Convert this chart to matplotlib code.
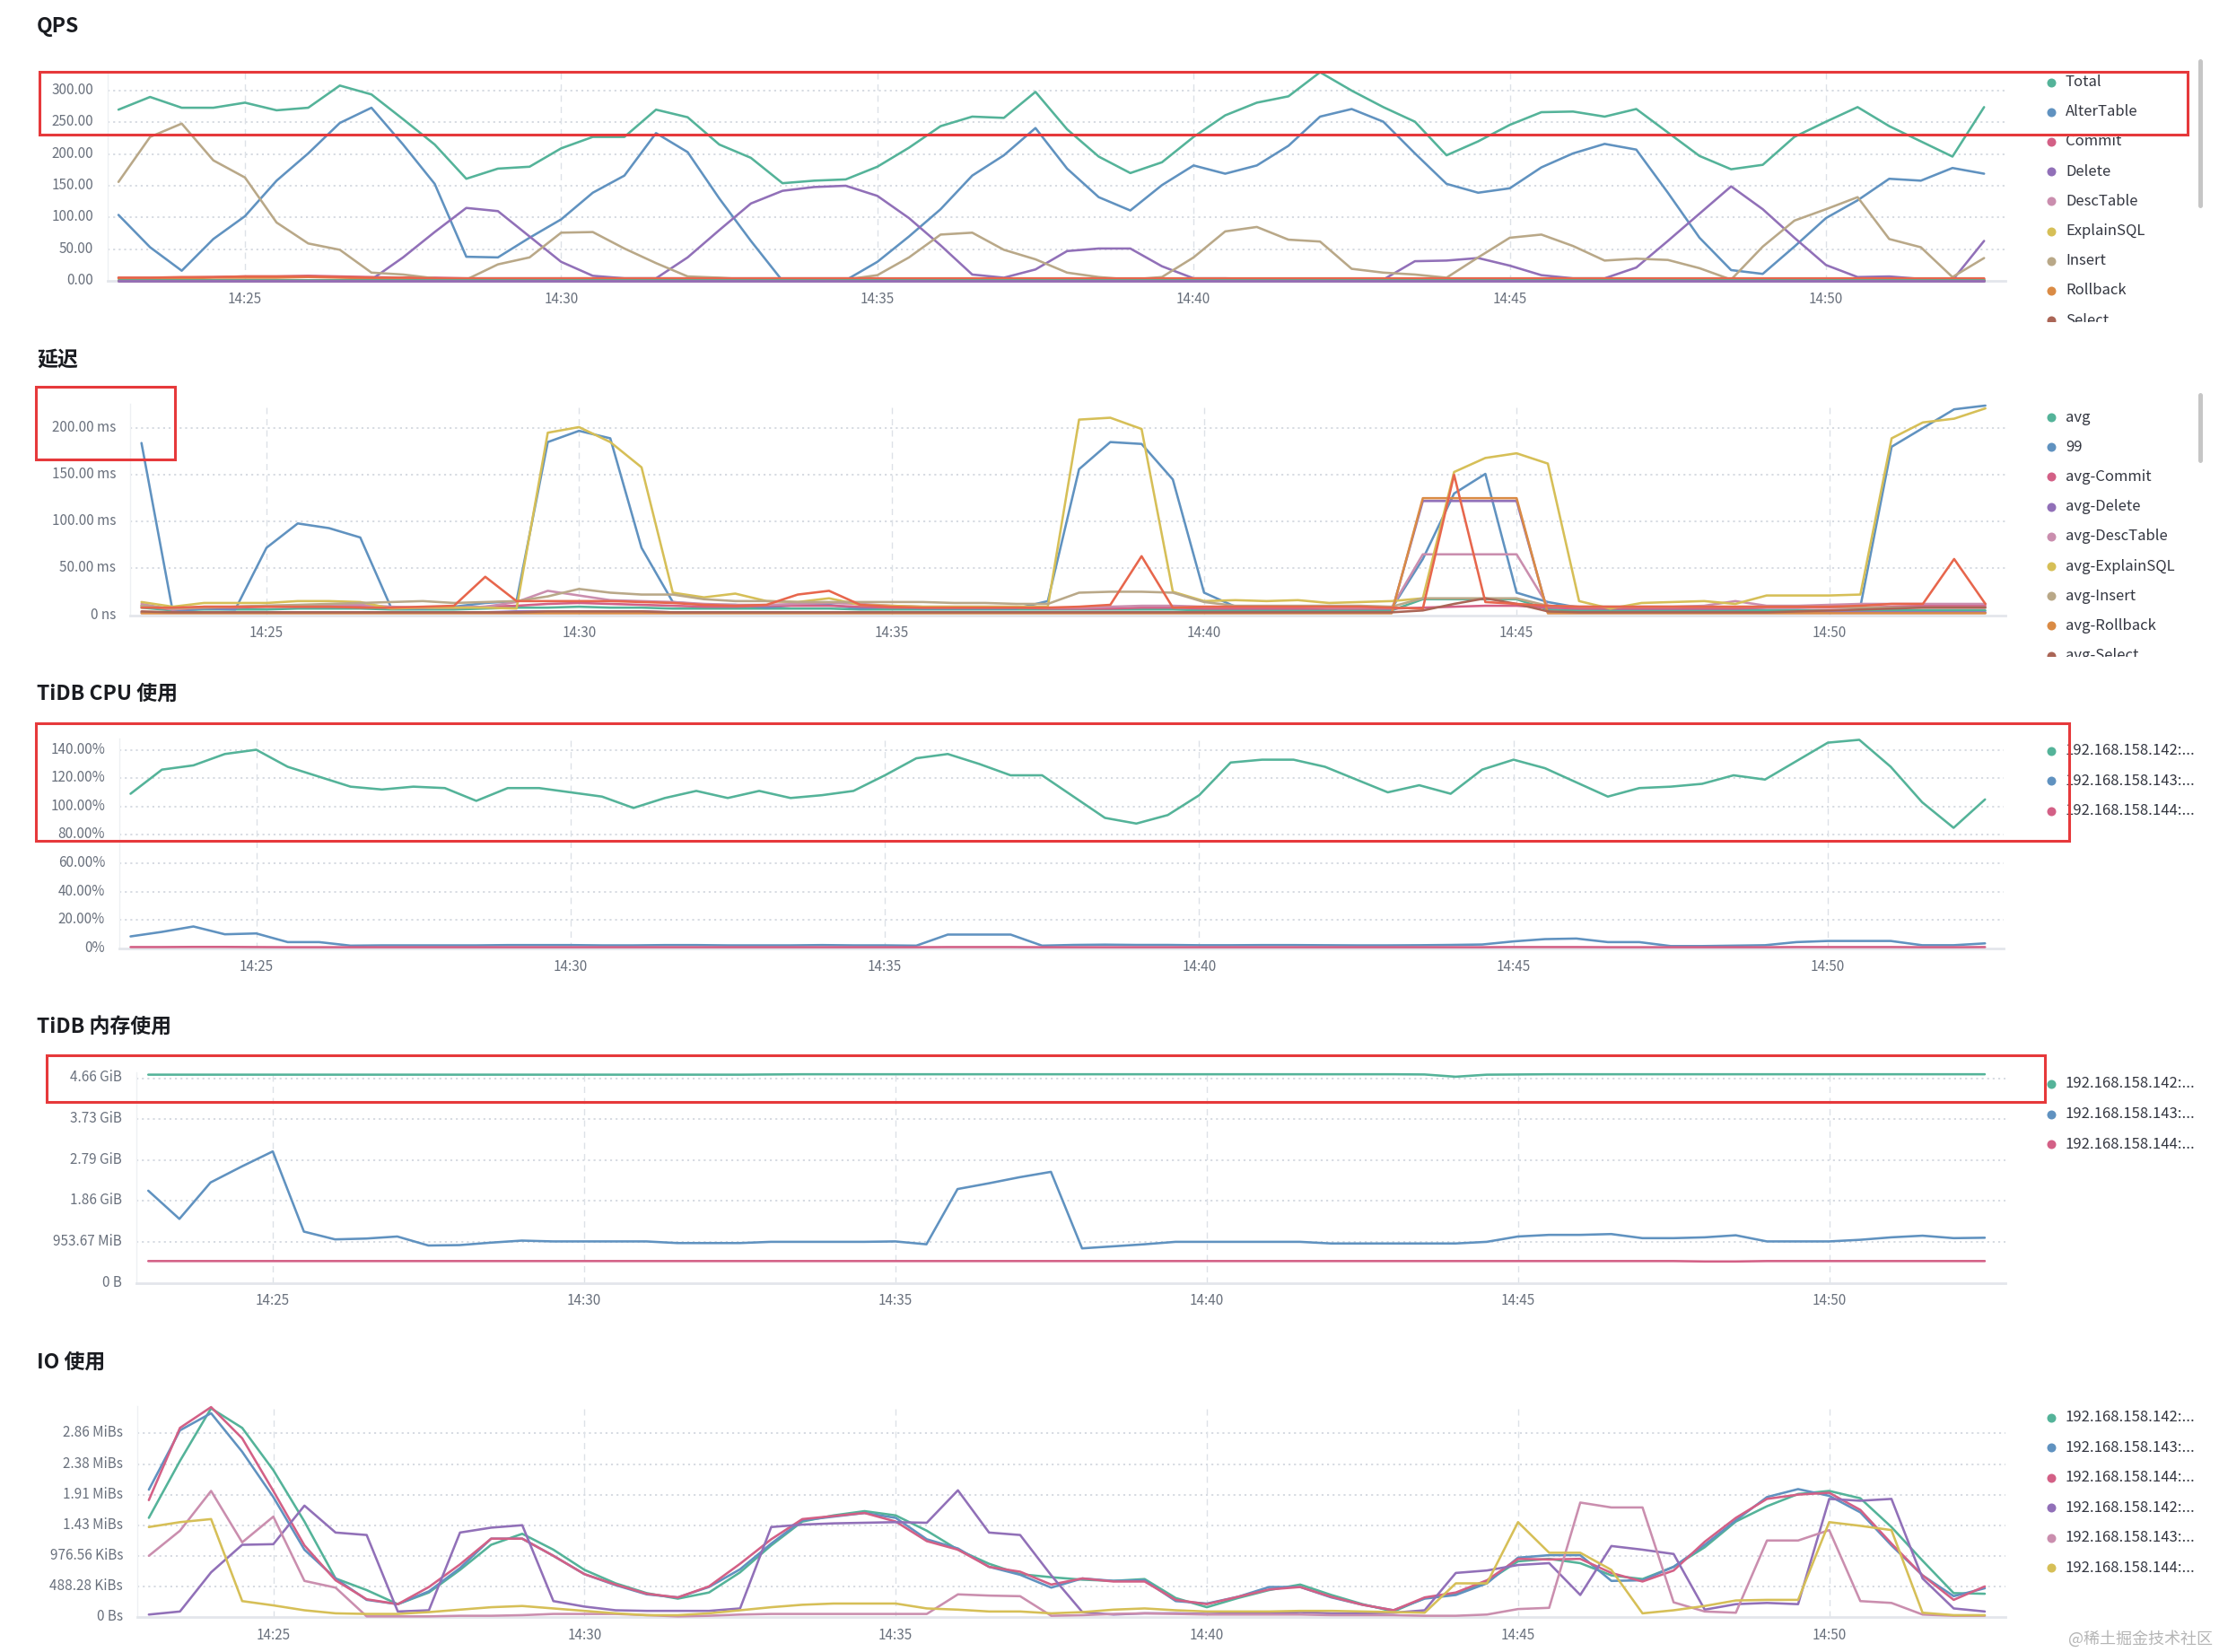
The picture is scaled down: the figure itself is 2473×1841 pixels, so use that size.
import numpy as np
import matplotlib
matplotlib.use("Agg")
import matplotlib.pyplot as plt
from matplotlib.patches import Rectangle
import matplotlib.transforms as mtransforms

plt.rcParams['font.family'] = ['Noto Sans CJK SC', 'DejaVu Sans']

W, H, DPI = 2473, 1841, 100

# ---------------- time axis ----------------
N_POINTS = 60
START_MIN = 23.0      # 14:23
STEP_MIN = 0.5        # 30 s
X_TICKS = [25, 30, 35, 40, 45, 50]
X_LABELS = ["14:25", "14:30", "14:35", "14:40", "14:45", "14:50"]

# ---------------- QPS ----------------
qps_names = ["Total", "AlterTable", "Commit", "Delete", "DescTable", "ExplainSQL",
             "Insert", "Rollback", "Select", "Update", "Set", "Show", "Use", "Other"]
qps_total = [270, 290, 273, 273, 281, 269, 273, 308, 294, 255, 215, 161, 177, 180, 209, 227, 227, 270, 258, 215,
             194, 154, 158, 160, 180, 210, 244, 259, 257, 298, 239, 196, 170, 187, 227, 261, 281, 291, 329, 300,
             274, 251, 198, 220, 246, 266, 267, 259, 271, 234, 197, 176, 183, 227, 251, 274, 244, 220, 196, 274]
qps_alter = [104, 53, 16, 66, 102, 158, 201, 249, 273, 215, 153, 38, 37, 68, 97, 139, 166, 233, 203, 130,
             63, 0, 0, 1, 30, 70, 113, 166, 198, 241, 177, 132, 111, 151, 182, 169, 182, 213, 259, 271,
             251, 201, 153, 139, 146, 179, 201, 216, 207, 139, 68, 17, 11, 54, 99, 127, 161, 158, 178, 169]
qps_commit = [5, 5, 5, 6, 7, 7, 8, 7, 6, 5, 5, 4, 4, 4, 4, 4, 4, 4, 4, 4,
              4, 4, 4, 4, 4, 3, 3, 3, 3, 3, 3, 3, 3, 3, 3, 3, 3, 3, 3, 3,
              3, 3, 3, 3, 3, 3, 3, 3, 3, 3, 3, 3, 3, 3, 3, 3, 3, 3, 3, 3]
qps_delete = [0, 0, 0, 0, 0, 0, 0, 0, 2, 37, 77, 115, 110, 70, 30, 8, 4, 4, 37, 80,
              122, 142, 148, 150, 134, 99, 56, 10, 5, 18, 47, 51, 51, 23, 4, 4, 3, 3, 3, 2,
              2, 31, 32, 36, 24, 9, 4, 4, 21, 63, 106, 149, 113, 68, 25, 6, 7, 3, 1, 63]
qps_desc = [1, 1, 1, 1, 1, 1, 1, 1, 1, 1, 1, 1, 1, 1, 1, 1, 1, 1, 1, 1,
            1, 1, 1, 1, 1, 1, 1, 1, 1, 1, 1, 1, 1, 1, 1, 1, 1, 1, 1, 1,
            1, 1, 1, 1, 1, 1, 1, 1, 1, 1, 1, 1, 1, 1, 1, 1, 1, 1, 1, 1]
qps_explain = [1, 1, 1, 1, 1, 1, 1, 1, 1, 1, 1, 1, 1, 1, 1, 1, 1, 1, 1, 1,
               1, 1, 1, 1, 1, 1, 1, 1, 1, 1, 1, 1, 1, 1, 1, 1, 1, 1, 1, 1,
               1, 1, 1, 1, 1, 1, 1, 1, 1, 1, 1, 1, 1, 1, 1, 1, 1, 1, 1, 1]
qps_insert = [156, 227, 248, 190, 163, 92, 59, 49, 13, 10, 4, 2, 26, 37, 76, 77, 51, 28, 7, 5,
              2, 1, 1, 2, 9, 37, 73, 76, 49, 34, 13, 6, 2, 6, 37, 78, 85, 65, 62, 19,
              13, 10, 5, 37, 68, 73, 55, 32, 35, 33, 20, 2, 54, 95, 113, 132, 66, 53, 6, 36]
qps_rollback = [4, 4, 4, 5, 5, 5, 6, 5, 4, 4, 4, 3, 3, 3, 3, 3, 3, 3, 3, 3,
                3, 3, 3, 3, 3, 3, 3, 3, 3, 3, 3, 3, 3, 3, 3, 3, 3, 3, 3, 3,
                3, 3, 3, 3, 3, 3, 3, 3, 3, 3, 3, 3, 3, 3, 3, 3, 3, 3, 3, 3]
qps_select = [2, 2, 2, 2, 2, 2, 2, 2, 2, 2, 2, 2, 2, 2, 2, 2, 2, 2, 2, 2,
              2, 2, 2, 2, 2, 2, 2, 2, 2, 2, 2, 2, 2, 2, 2, 2, 2, 2, 2, 2,
              2, 2, 2, 2, 2, 2, 2, 2, 2, 2, 2, 2, 2, 2, 2, 2, 2, 2, 2, 2]
qps_update = [5, 5, 6, 6, 7, 7, 7, 6, 5, 5, 4, 4, 4, 4, 4, 4, 4, 4, 4, 4,
              4, 4, 4, 4, 4, 4, 4, 4, 4, 4, 4, 4, 4, 4, 4, 4, 4, 4, 4, 4,
              4, 4, 4, 4, 4, 4, 4, 4, 4, 4, 4, 4, 4, 4, 4, 4, 4, 4, 4, 4]
qps_set = [1, 1, 1, 1, 1, 1, 1, 1, 1, 1, 1, 1, 1, 1, 1, 1, 1, 1, 1, 1,
           1, 1, 1, 1, 1, 1, 1, 1, 1, 1, 1, 1, 1, 1, 1, 1, 1, 1, 1, 1,
           1, 1, 1, 1, 1, 1, 1, 1, 1, 1, 1, 1, 1, 1, 1, 1, 1, 1, 1, 1]
qps_show = [0, 0, 0, 0, 0, 0, 0, 0, 0, 0, 0, 0, 0, 0, 0, 0, 0, 0, 0, 0,
            0, 0, 0, 0, 0, 0, 0, 0, 0, 0, 0, 0, 0, 0, 0, 0, 0, 0, 0, 0,
            0, 0, 0, 0, 0, 0, 0, 0, 0, 0, 0, 0, 0, 0, 0, 0, 0, 0, 0, 0]
qps_use = [0, 0, 0, 0, 0, 0, 0, 0, 0, 0, 0, 0, 0, 0, 0, 0, 0, 0, 0, 0,
           0, 0, 0, 0, 0, 0, 0, 0, 0, 0, 0, 0, 0, 0, 0, 0, 0, 0, 0, 0,
           0, 0, 0, 0, 0, 0, 0, 0, 0, 0, 0, 0, 0, 0, 0, 0, 0, 0, 0, 0]
qps_other = [0, 0, 0, 0, 0, 0, 0, 0, 0, 0, 0, 0, 0, 0, 0, 0, 0, 0, 0, 0,
             0, 0, 0, 0, 0, 0, 0, 0, 0, 0, 0, 0, 0, 0, 0, 0, 0, 0, 0, 0,
             0, 0, 0, 0, 0, 0, 0, 0, 0, 0, 0, 0, 0, 0, 0, 0, 0, 0, 0, 0]
qps_series = [qps_total, qps_alter, qps_commit, qps_delete, qps_desc, qps_explain,
              qps_insert, qps_rollback, qps_select, qps_update, qps_set, qps_show, qps_use, qps_other]
qps_yticks = [0, 50, 100, 150, 200, 250, 300]
qps_ylabels = ["0.00", "50.00", "100.00", "150.00", "200.00", "250.00", "300.00"]

# ---------------- Latency (ms) ----------------
lat_names = ["avg", "99", "avg-Commit", "avg-Delete", "avg-DescTable", "avg-ExplainSQL",
             "avg-Insert", "avg-Rollback", "avg-Select", "avg-Update"]
lat_avg = [8, 5, 6, 6, 6, 7, 7, 7, 6, 6, 6, 7, 8, 8, 9, 8, 8, 7, 7, 7,
           7, 7, 7, 6, 6, 6, 6, 6, 6, 6, 6, 6, 6, 6, 5, 5, 5, 5, 5, 5,
           5, 17, 17, 17, 17, 6, 5, 5, 5, 5, 5, 5, 5, 5, 5, 5, 5, 5, 5, 5]
lat_p99 = [184, 4, 7, 6, 72, 98, 93, 83, 7, 7, 9, 13, 15, 185, 197, 189, 72, 14, 11, 11,
           8, 11, 11, 7, 9, 7, 7, 7, 7, 15, 156, 185, 183, 145, 24, 9, 9, 8, 8, 8,
           7, 60, 130, 151, 24, 14, 8, 7, 7, 7, 7, 7, 8, 8, 9, 9, 180, 200, 220, 224]
lat_commit = [10, 6, 8, 8, 9, 9, 9, 9, 8, 8, 8, 9, 10, 12, 13, 12, 11, 10, 9, 9,
              10, 10, 10, 9, 8, 8, 8, 8, 8, 7, 7, 7, 8, 8, 7, 7, 7, 7, 7, 7,
              7, 8, 9, 10, 10, 8, 7, 7, 7, 7, 7, 7, 8, 8, 8, 8, 9, 10, 10, 10]
lat_delete = [3, 3, 3, 3, 3, 3, 3, 3, 3, 3, 3, 3, 4, 4, 4, 4, 4, 3, 3, 3,
              3, 3, 3, 3, 3, 3, 3, 3, 3, 3, 3, 3, 3, 3, 3, 3, 3, 3, 3, 3,
              3, 122, 122, 122, 122, 3, 3, 3, 3, 3, 3, 3, 3, 3, 3, 3, 3, 3, 3, 3]
lat_desc = [12, 6, 9, 9, 10, 10, 11, 11, 9, 8, 8, 9, 14, 26, 21, 16, 15, 14, 12, 11,
            11, 12, 13, 12, 10, 9, 9, 9, 9, 8, 8, 9, 10, 10, 9, 9, 9, 9, 8, 8,
            8, 65, 65, 65, 65, 10, 9, 9, 9, 9, 10, 15, 10, 10, 11, 12, 12, 12, 12, 12]
lat_explain = [14, 9, 13, 13, 13, 15, 15, 14, 7, 8, 8, 8, 7, 195, 201, 185, 158, 24, 19, 23,
               15, 14, 18, 11, 10, 9, 9, 9, 9, 9, 209, 211, 199, 25, 15, 16, 15, 16, 13, 14,
               15, 18, 153, 168, 173, 162, 15, 7, 13, 14, 15, 12, 21, 21, 21, 22, 189, 206, 210, 221]
lat_insert = [10, 7, 8, 9, 10, 11, 12, 13, 14, 15, 13, 14, 15, 20, 28, 24, 22, 22, 17, 15,
              15, 14, 14, 14, 14, 14, 13, 13, 12, 12, 24, 25, 25, 24, 14, 10, 10, 10, 10, 10,
              9, 18, 18, 18, 18, 10, 9, 9, 9, 9, 9, 9, 9, 9, 9, 8, 8, 8, 8, 8]
lat_rollback = [2, 2, 2, 2, 2, 2, 2, 2, 2, 2, 2, 2, 2, 2, 2, 2, 2, 2, 2, 2,
                2, 2, 2, 2, 2, 2, 2, 2, 2, 2, 2, 2, 2, 2, 2, 2, 2, 2, 2, 2,
                2, 125, 125, 125, 125, 2, 2, 2, 2, 2, 2, 2, 2, 2, 2, 2, 2, 2, 2, 2]
lat_select = [4, 3, 3, 3, 3, 3, 3, 3, 3, 3, 3, 3, 3, 4, 4, 4, 4, 3, 3, 3,
              3, 3, 3, 3, 3, 3, 3, 3, 3, 3, 3, 3, 3, 3, 3, 3, 3, 3, 3, 3,
              3, 5, 12, 18, 12, 4, 3, 3, 3, 3, 3, 3, 3, 4, 5, 6, 7, 8, 8, 8]
lat_update = [8, 8, 9, 9, 9, 9, 9, 8, 8, 9, 10, 41, 15, 15, 15, 15, 14, 13, 11, 10,
              11, 22, 26, 11, 9, 8, 8, 8, 8, 8, 9, 11, 63, 8, 9, 9, 9, 9, 9, 9,
              8, 7, 150, 14, 12, 10, 9, 9, 9, 9, 9, 9, 9, 9, 9, 10, 12, 12, 60, 12]
lat_series = [lat_avg, lat_p99, lat_commit, lat_delete, lat_desc, lat_explain,
              lat_insert, lat_rollback, lat_select, lat_update]
lat_yticks = [0, 50, 100, 150, 200]
lat_ylabels = ["0 ns", "50.00 ms", "100.00 ms", "150.00 ms", "200.00 ms"]

# ---------------- TiDB CPU (%) ----------------
host_names = ["192.168.158.142:...", "192.168.158.143:...", "192.168.158.144:..."]
cpu_142 = [109, 126, 129, 137, 140, 128, 121, 114, 112, 114, 113, 104, 113, 113, 110, 107, 99, 106, 111, 106,
           111, 106, 108, 111, 122, 134, 137, 130, 122, 122, 107, 92, 88, 94, 108, 131, 133, 133, 128, 119,
           110, 115, 109, 126, 133, 127, 117, 107, 113, 114, 116, 122, 119, 132, 145, 147, 128, 103, 85, 105]
cpu_143 = [8.5, 11.7, 15.5, 10, 10.6, 4.5, 4.5, 2, 2.2, 2.2, 2.2, 2.2, 2.4, 2.4, 2.4, 2.2, 2.2, 2.4, 2.4, 2.2,
           2.2, 2.2, 2.4, 2.2, 2.2, 2, 9.8, 9.8, 9.8, 2, 2.5, 2.7, 2.5, 2.5, 2.3, 2.3, 2.4, 2.4, 2.3, 2.2,
           2.2, 2.3, 2.5, 2.8, 5, 6.6, 7, 4.5, 4.5, 1.7, 1.7, 2, 2.3, 4.5, 5.3, 5.3, 5.3, 2.3, 2.3, 3.6]
cpu_144 = [1.0, 1.0, 1.1, 1.1, 1.0, 0.9, 0.9, 0.9, 0.9, 0.9, 0.9, 0.9, 0.9, 0.9, 0.9, 0.9, 0.9, 0.9, 0.9, 0.9,
           0.9, 0.9, 0.9, 0.9, 0.9, 0.9, 1.0, 1.0, 1.0, 0.9, 0.9, 0.9, 0.9, 0.9, 0.9, 0.9, 0.9, 0.9, 0.9, 0.9,
           0.9, 0.9, 0.9, 0.9, 1.0, 1.0, 1.0, 0.9, 0.9, 0.9, 0.9, 0.9, 0.9, 1.0, 1.0, 1.0, 1.0, 0.9, 0.9, 1.0]
cpu_series = [cpu_142, cpu_143, cpu_144]
cpu_yticks = [0, 20, 40, 60, 80, 100, 120, 140]
cpu_ylabels = ["0%", "20.00%", "40.00%", "60.00%", "80.00%", "100.00%", "120.00%", "140.00%"]

# ---------------- TiDB memory (units of 1e9 bytes) ----------------
mem_142 = [5.085, 5.085, 5.085, 5.085, 5.085, 5.085, 5.085, 5.085, 5.085, 5.085, 5.085, 5.085, 5.085, 5.085,
           5.085, 5.085, 5.085, 5.085, 5.085, 5.085, 5.09, 5.095, 5.095, 5.095, 5.095, 5.095, 5.095, 5.095,
           5.095, 5.095, 5.095, 5.095, 5.095, 5.095, 5.095, 5.095, 5.095, 5.095, 5.095, 5.095, 5.095, 5.09,
           5.035, 5.085, 5.09, 5.095, 5.095, 5.095, 5.095, 5.095, 5.095, 5.095, 5.095, 5.095, 5.095, 5.095,
           5.095, 5.095, 5.095, 5.095]
mem_143 = [2.25, 1.56, 2.45, 2.84, 3.21, 1.25, 1.06, 1.08, 1.13, 0.91, 0.92, 0.98, 1.03, 1.01, 1.01, 1.01,
           1.01, 0.97, 0.97, 0.97, 1.0, 1.0, 1.0, 1.0, 1.01, 0.94, 2.29, 2.43, 2.58, 2.71, 0.84, 0.89,
           0.94, 1.0, 1.0, 1.0, 1.0, 1.0, 0.96, 0.96, 0.96, 0.96, 0.96, 1.0, 1.13, 1.17, 1.17, 1.19,
           1.09, 1.09, 1.11, 1.16, 1.01, 1.01, 1.01, 1.05, 1.11, 1.15, 1.09, 1.10]
mem_144 = [0.53, 0.53, 0.53, 0.53, 0.53, 0.53, 0.53, 0.53, 0.53, 0.53, 0.53, 0.53, 0.53, 0.53, 0.53,
           0.53, 0.53, 0.53, 0.53, 0.53, 0.53, 0.53, 0.53, 0.53, 0.53, 0.53, 0.53, 0.53, 0.53, 0.53,
           0.53, 0.53, 0.53, 0.53, 0.53, 0.53, 0.53, 0.53, 0.53, 0.53, 0.53, 0.53, 0.53, 0.53, 0.53,
           0.53, 0.53, 0.53, 0.53, 0.53, 0.52, 0.52, 0.53, 0.53, 0.53, 0.53, 0.53, 0.53, 0.53, 0.53]
mem_series = [mem_142, mem_143, mem_144]
mem_yticks = [0, 1, 2, 3, 4, 5]
mem_ylabels = ["0 B", "953.67 MiB", "1.86 GiB", "2.79 GiB", "3.73 GiB", "4.66 GiB"]

# ---------------- IO (units of 1e6 bytes/s) ----------------
io_names = ["192.168.158.142:...", "192.168.158.143:...", "192.168.158.144:...",
            "192.168.158.142:...", "192.168.158.143:...", "192.168.158.144:..."]
io_142a = [1.62, 2.55, 3.41, 3.09, 2.40, 1.56, 0.63, 0.44, 0.21, 0.40, 0.77, 1.18, 1.36, 1.10, 0.77, 0.55,
           0.39, 0.30, 0.40, 0.73, 1.17, 1.56, 1.66, 1.73, 1.66, 1.41, 1.10, 0.87, 0.70, 0.65, 0.61, 0.59,
           0.62, 0.31, 0.16, 0.31, 0.44, 0.53, 0.36, 0.21, 0.09, 0.31, 0.38, 0.58, 0.91, 0.95, 0.88, 0.68,
           0.62, 0.82, 1.14, 1.56, 1.81, 2.01, 2.06, 1.94, 1.47, 0.92, 0.39, 0.38]
io_143a = [2.08, 3.05, 3.33, 2.70, 1.96, 1.10, 0.63, 0.28, 0.21, 0.42, 0.80, 1.28, 1.28, 1.00, 0.70, 0.52,
           0.37, 0.32, 0.49, 0.78, 1.20, 1.58, 1.64, 1.70, 1.62, 1.27, 1.12, 0.82, 0.69, 0.48, 0.63, 0.59,
           0.60, 0.26, 0.22, 0.33, 0.49, 0.49, 0.32, 0.20, 0.11, 0.30, 0.36, 0.55, 0.97, 1.01, 1.01, 0.59,
           0.60, 0.82, 1.18, 1.58, 1.96, 2.09, 1.98, 1.71, 1.17, 0.68, 0.34, 0.47]
io_144a = [1.91, 3.09, 3.43, 2.92, 2.06, 1.17, 0.60, 0.29, 0.21, 0.49, 0.86, 1.28, 1.28, 1.00, 0.70, 0.53,
           0.38, 0.32, 0.50, 0.87, 1.27, 1.60, 1.65, 1.70, 1.56, 1.24, 1.10, 0.82, 0.74, 0.53, 0.63, 0.58,
           0.58, 0.28, 0.21, 0.33, 0.45, 0.49, 0.33, 0.20, 0.11, 0.32, 0.40, 0.60, 0.95, 0.94, 0.95, 0.72,
           0.58, 0.76, 1.23, 1.62, 1.93, 2.00, 2.03, 1.75, 1.20, 0.68, 0.28, 0.50]
io_142b = [0.04, 0.09, 0.73, 1.18, 1.19, 1.82, 1.38, 1.34, 0.09, 0.11, 1.38, 1.46, 1.50, 0.26, 0.17, 0.11,
           0.10, 0.10, 0.10, 0.14, 1.47, 1.51, 1.53, 1.54, 1.55, 1.54, 2.07, 1.38, 1.34, 0.68, 0.08, 0.04,
           0.06, 0.06, 0.05, 0.06, 0.06, 0.08, 0.06, 0.06, 0.07, 0.11, 0.72, 0.76, 0.85, 0.88, 0.36, 1.16,
           1.10, 1.03, 0.12, 0.21, 0.23, 0.21, 1.93, 1.90, 1.93, 0.63, 0.14, 0.09]
io_143b = [1.00, 1.41, 2.06, 1.22, 1.64, 0.59, 0.48, 0.01, 0.01, 0.01, 0.02, 0.02, 0.03, 0.05, 0.05, 0.05,
           0.03, 0.01, 0.02, 0.04, 0.05, 0.05, 0.05, 0.05, 0.05, 0.05, 0.37, 0.35, 0.34, 0.02, 0.03, 0.05,
           0.06, 0.05, 0.04, 0.04, 0.04, 0.04, 0.03, 0.03, 0.03, 0.02, 0.02, 0.04, 0.13, 0.15, 1.87, 1.79,
           1.79, 0.24, 0.09, 0.07, 1.25, 1.25, 1.42, 0.26, 0.23, 0.04, 0.02, 0.02]
io_144b = [1.47, 1.55, 1.60, 0.26, 0.19, 0.11, 0.06, 0.05, 0.05, 0.08, 0.12, 0.16, 0.18, 0.14, 0.10, 0.06,
           0.03, 0.03, 0.06, 0.11, 0.16, 0.20, 0.22, 0.22, 0.22, 0.14, 0.12, 0.09, 0.09, 0.06, 0.08, 0.12,
           0.14, 0.11, 0.09, 0.09, 0.09, 0.10, 0.10, 0.09, 0.08, 0.07, 0.55, 0.55, 1.55, 1.05, 1.05, 0.77,
           0.06, 0.11, 0.18, 0.27, 0.28, 0.28, 1.55, 1.49, 1.42, 0.07, 0.03, 0.03]
io_series = [io_142a, io_143a, io_144a, io_142b, io_143b, io_144b]
io_yticks = [0, 0.5, 1.0, 1.5, 2.0, 2.5, 3.0]
io_ylabels = ["0 Bs", "488.28 KiBs", "976.56 KiBs", "1.43 MiBs", "1.91 MiBs", "2.38 MiBs", "2.86 MiBs"]

PALETTE = ['#54B399', '#6092C0', '#D36086', '#9170B8', '#CA8EAE', '#D6BF57',
           '#B9A888', '#DA8B45', '#AA6556', '#E7664C']

# ---------------- figure ----------------
fig = plt.figure(figsize=(W / DPI, H / DPI), dpi=DPI)
fig.patch.set_facecolor('white')
times = START_MIN + STEP_MIN * np.arange(N_POINTS)

TICK_COLOR = '#6a717d'
GRID_COLOR = '#d3d8df'
label_shift = mtransforms.ScaledTranslation(0, 2.5 / DPI, fig.dpi_scale_trans)


def panel(box, x25, ppm, px_per_unit, series, yticks, ylabels):
    L, T, R, B = box
    ax = fig.add_axes([L / W, 1 - B / H, (R - L) / W, (B - T) / H])
    ax.set_xlim(25 - (x25 - L) / ppm, 25 + (R - x25) / ppm)
    ax.set_ylim(0, (B - T) / px_per_unit)
    ax.set_yticks(yticks)
    ax.set_yticklabels(ylabels)
    ax.set_xticks(X_TICKS)
    ax.set_xticklabels(X_LABELS)
    ax.tick_params(axis='y', length=0, pad=11.5, labelsize=11, labelcolor=TICK_COLOR)
    ax.tick_params(axis='x', length=0, pad=8.4, labelsize=11, labelcolor=TICK_COLOR)
    for lbl in ax.get_yticklabels():
        lbl.set_transform(lbl.get_transform() + label_shift)
    ax.grid(False)
    for yt in yticks[1:]:
        ax.axhline(yt, color=GRID_COLOR, lw=1.3, ls=(0, (1.2, 2.2)), zorder=0)
    for xt in X_TICKS:
        ax.axvline(xt, color='#dde1e7', lw=1.0, ls=(0, (5, 4)), zorder=0)
    for s in ['top', 'right']:
        ax.spines[s].set_visible(False)
    ax.spines['left'].set_color('#eef0f3')
    ax.spines['left'].set_linewidth(1.0)
    ax.spines['bottom'].set_color('#e3e6eb')
    ax.spines['bottom'].set_linewidth(2.0)
    for i, vals in enumerate(series):
        ax.plot(times, vals, color=PALETTE[i % len(PALETTE)], lw=1.85, solid_joinstyle='round',
                solid_capstyle='round', zorder=3, clip_on=False)
    return ax


panel((120, 79, 2235, 313), 273, 70.48, 0.7067, qps_series, qps_yticks, qps_ylabels)
panel((145, 450, 2235, 685.5), 297, 69.66, 1.0425, lat_series, lat_yticks, lat_ylabels)
panel((133, 823, 2233, 1057), 285.6, 70.06, 1.582, cpu_series, cpu_yticks, cpu_ylabels)
panel((152, 1195, 2235, 1429.5), 304, 69.38, 45.6, mem_series, mem_yticks, mem_ylabels)
panel((153, 1567, 2235, 1802), 304.6, 69.36, 68.2, io_series, io_yticks, io_ylabels)

# ---------------- overlay (titles, legends, annotations) ----------------
ov = fig.add_axes([0, 0, 1, 1])
ov.set_xlim(0, W)
ov.set_ylim(H, 0)
ov.axis('off')
ov.set_zorder(10)
ov.patch.set_alpha(0)

titles = [("QPS", 29), ("延迟", 401), ("TiDB CPU 使用", 773), ("TiDB 内存使用", 1145), ("IO 使用", 1518)]
for t, y in titles:
    ov.text(41, y, t, fontsize=16.5, fontweight='bold', color='#1a1c21', va='center', ha='left')


def legend(names, y0, step, clip_y=None, clip_h=0):
    for i, name in enumerate(names):
        y = y0 + step * i
        if clip_y is not None and y - 9 > clip_y:
            break
        ov.plot([2286], [y], 'o', ms=7.2, color=PALETTE[i % len(PALETTE)], mec='none')
        ov.text(2302, y, name, fontsize=12, color='#343741', va='center', ha='left')
    if clip_y is not None:
        ov.add_patch(Rectangle((2260, clip_y), 190, clip_h, facecolor='white', edgecolor='none', zorder=20))


legend(qps_names, 91.5, 33.2, clip_y=359, clip_h=30)
legend(lat_names, 465, 33.2, clip_y=732, clip_h=30)
legend(host_names, 836.5, 33.5)
legend(host_names, 1208, 33.5)
legend(io_names, 1580, 33.4)

# scrollbars
ov.plot([2452, 2452], [68, 229], color='#c6c6c6', lw=3.6, solid_capstyle='round', zorder=21)
ov.plot([2452, 2452], [440, 513], color='#c6c6c6', lw=3.6, solid_capstyle='round', zorder=21)

# red annotation boxes
RED = '#e6393b'
for (x0, y0, x1, y1) in [(44, 80, 2438, 150), (40, 431, 195, 512), (40, 806, 2306, 937),
                         (52, 1176, 2279, 1228)]:
    ov.add_patch(Rectangle((x0, y0), x1 - x0, y1 - y0, fill=False, edgecolor=RED, lw=2.2, zorder=25))

# watermark
ov.text(2466, 1826, "@稀土掘金技术社区", fontsize=13, color='#b5b5b5', ha='right', va='center')

fig.savefig("out.png", dpi=DPI, facecolor='white')
